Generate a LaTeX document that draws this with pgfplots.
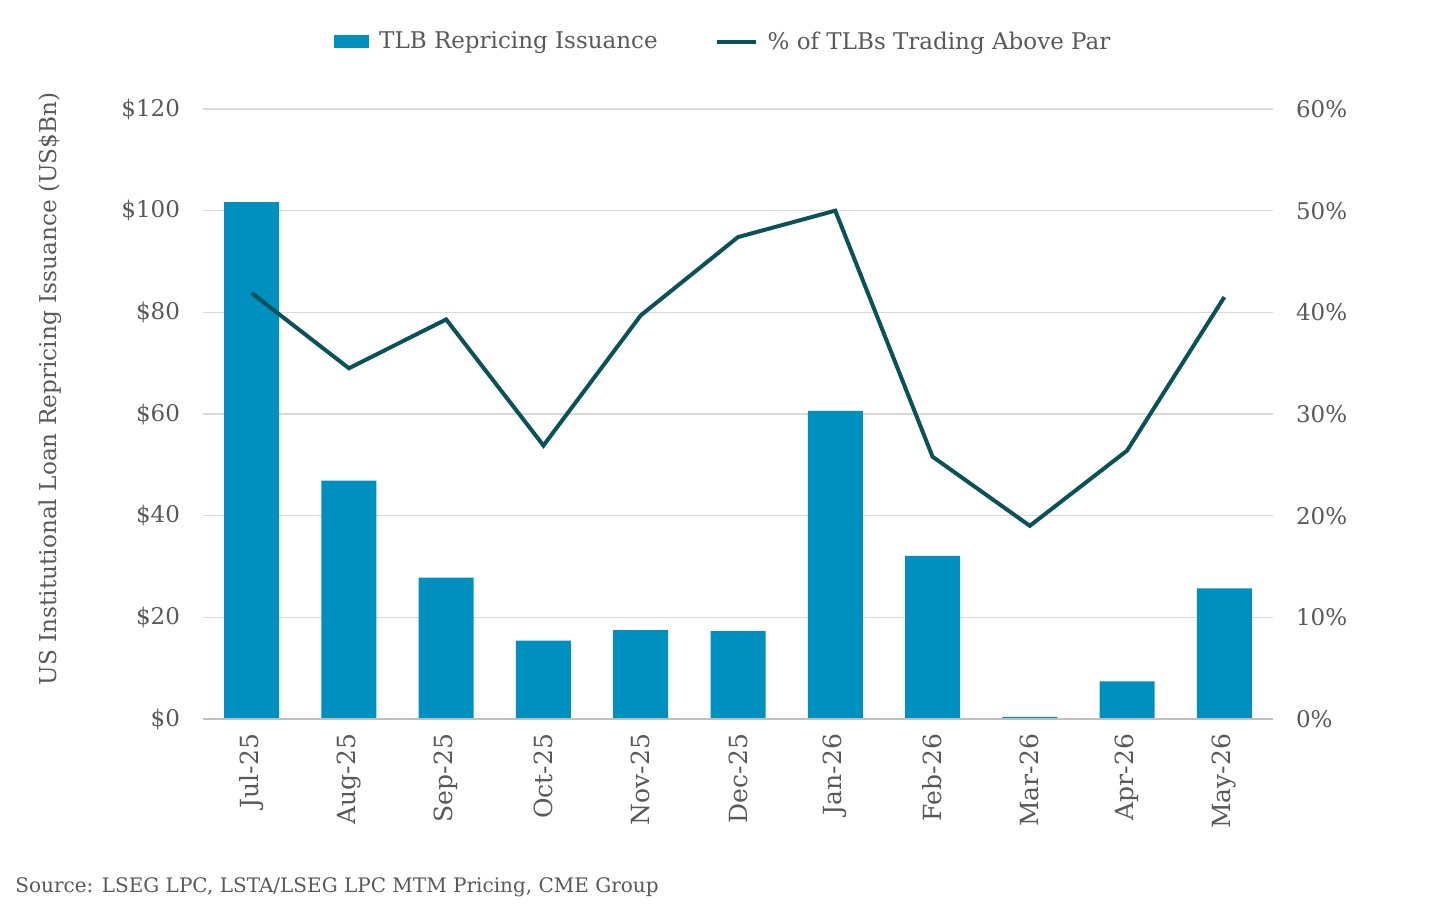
\documentclass[border=0pt]{standalone}
\usepackage{pgfplots}
\pgfplotsset{compat=1.18}
\usepackage{fontspec}
\setmainfont{DejaVu Serif}
\definecolor{barblue}{HTML}{0090C0}
\definecolor{lineteal}{HTML}{0B5258}
\definecolor{txtgray}{HTML}{595959}
\definecolor{gridgray}{HTML}{D9D9D9}
\pgfplotstableread{
x bn pct
0 101.7 41.9
1 46.9 34.5
2 27.8 39.3
3 15.4 26.9
4 17.5 39.7
5 17.3 47.4
6 60.6 50.0
7 32.1 25.8
8 0.4 19.0
9 7.4 26.4
10 25.7 41.5
}\datatable
\begin{document}
\begin{tikzpicture}
\useasboundingbox (0,0) rectangle (720pt,457.5pt);
\begin{axis}[
  at={(101.5pt,98pt)}, anchor=south west,
  scale only axis, width=535pt, height=305pt,
  xmin=-0.5, xmax=10.5, ymin=0, ymax=120,
  ytick={0,20,...,120},
  yticklabel={\$\pgfmathprintnumber{\tick}},
  xtick={0,...,10},
  xticklabels={Jul-25,Aug-25,Sep-25,Oct-25,Nov-25,Dec-25,Jan-26,Feb-26,Mar-26,Apr-26,May-26},
  x tick label style={rotate=90, anchor=east, font=\fontsize{12.5}{13}\selectfont, text=txtgray},
  y tick label style={font=\fontsize{11.5}{12}\selectfont, text=txtgray},
  /pgf/number format/assume math mode=true,
  major tick length=0pt,
  xticklabel shift=4pt,
  yticklabel shift=8pt,
  axis line style={draw=none},
  ymajorgrids, grid style={gridgray, line width=0.6pt},
  ylabel={US Institutional Loan Repricing Issuance (US\$Bn)},
  every axis y label/.style={at={(axis description cs:-0.143,0.541)}, rotate=90, anchor=center,
    font=\fontsize{11.6}{13}\selectfont, text=txtgray},
  clip=false,
]
\addplot[ybar, bar width=27.5pt, fill=barblue, draw=none] table[x=x,y=bn]{\datatable};
\draw[gray!50, line width=0.7pt] (axis cs:-0.5,0) -- (axis cs:10.5,0);
\end{axis}
\begin{axis}[
  at={(101.5pt,98pt)}, anchor=south west,
  scale only axis, width=535pt, height=305pt,
  xmin=-0.5, xmax=10.5, ymin=0, ymax=60,
  ytick={0,10,...,60},
  yticklabel={\pgfmathprintnumber{\tick}\%},
  y tick label style={font=\fontsize{11.5}{12}\selectfont, text=txtgray, anchor=west},
  /pgf/number format/assume math mode=true,
  axis y line*=right, axis x line=none,
  y axis line style={draw=none},
  major tick length=0pt,
  yticklabel shift=8pt,
  legend style={at={(0.49,1.11)}, anchor=center, draw=none, fill=none,
    font=\fontsize{11.5}{12}\selectfont, text=txtgray,
    /tikz/every even column/.append style={column sep=23.5pt},
    /tikz/every odd column/.append style={inner xsep=0pt},
    nodes={inner xsep=5pt}},
  legend columns=2,
  legend cell align=left,
  clip=false,
]
\addlegendimage{area legend, fill=barblue, draw=none, legend image code/.code={\fill[barblue] (0pt,-3.25pt) rectangle (17.5pt,3.25pt);}}
\addlegendentry{TLB Repricing Issuance}
\addplot[lineteal, line width=2pt, mark=none, legend image code/.code={\draw[lineteal, line width=2pt] (0pt,0pt) -- (19.5pt,0pt);}] table[x=x,y=pct]{\datatable};
\addlegendentry{\% of TLBs Trading Above Par}
\end{axis}
\node[anchor=west, inner sep=0pt, text=txtgray, font=\fontsize{10}{12}\selectfont] at (7.5pt,14pt) {Source: LSEG LPC, LSTA/LSEG LPC MTM Pricing, CME Group};
\end{tikzpicture}
\end{document}
